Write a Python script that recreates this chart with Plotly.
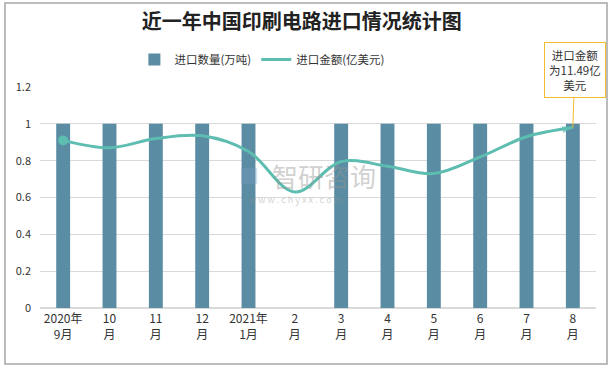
import plotly.graph_objects as go

categories = ["2020年<br>9月", "10<br>月", "11<br>月", "12<br>月", "2021年<br>1月", "2<br>月",
              "3<br>月", "4<br>月", "5<br>月", "6<br>月", "7<br>月", "8<br>月"]
quantity = [1, 1, 1, 1, 1, None, 1, 1, 1, 1, 1, 1]
amount = [0.91, 0.87, 0.92, 0.935, 0.85, 0.63, 0.795, 0.77, 0.73, 0.82, 0.93, 0.98]
y_ticks = [0, 0.2, 0.4, 0.6, 0.8, 1, 1.2]

FONT = "Noto Sans CJK SC"
bar_color = "#5a8ca3"
line_color = "#5cbdb0"

fig = go.Figure()
fig.add_trace(go.Bar(
    x=categories, y=quantity, name="进口数量(万吨)",
    marker=dict(color=bar_color, line=dict(width=0)), width=0.3,
))
fig.add_trace(go.Scatter(
    x=categories, y=amount, name="进口金额(亿美元)", mode="lines",
    line=dict(color=line_color, width=3, shape="spline", smoothing=1),
))
# start dot
fig.add_trace(go.Scatter(
    x=categories[:1], y=amount[:1], mode="markers", showlegend=False,
    marker=dict(symbol="circle", size=10, color=line_color),
))
# end arrow
fig.add_trace(go.Scatter(
    x=categories[-2:], y=amount[-2:], mode="markers", showlegend=False,
    marker=dict(symbol=["circle", "arrow"], size=[0, 11], color=line_color,
                angleref="previous", line=dict(width=0)),
))

fig.update_layout(
    width=616, height=368,
    margin=dict(l=40, r=20, t=87, b=60, autoexpand=False),
    paper_bgcolor="white", plot_bgcolor="white",
    font=dict(family=FONT, size=12, color="#333333"),
    title=dict(text="<b>近一年中国印刷电路进口情况统计图</b>", x=0.49, xanchor="center",
               y=0.94, yanchor="middle", font=dict(size=20, color="#222222", family=FONT)),
    legend=dict(orientation="h", x=0.4, xanchor="center", y=1.125, yanchor="middle",
                font=dict(size=11.5, color="#333333"), itemwidth=30, tracegroupgap=0),
    showlegend=True,
)
fig.update_xaxes(range=[-0.5, len(categories) - 0.5], showgrid=False, showline=True,
                 linecolor="#d9d9d9", ticks="", tickfont=dict(size=12, color="#333333"),
                 automargin=False)
fig.update_yaxes(range=[0, 1.2], tickvals=y_ticks, showgrid=True, gridcolor="#d9d9d9",
                 zeroline=True, zerolinecolor="#d9d9d9", showline=False, automargin=False,
                 tickfont=dict(size=11, color="#333333"), ticklabelstandoff=8)

# outer border
fig.add_shape(type="rect", xref="paper", yref="paper",
              x0=-0.063, x1=1.0198, y0=-0.253, y1=1.38,
              line=dict(color="#a6a6a6", width=1.5), fillcolor="rgba(0,0,0,0)", layer="below")

# watermark
fig.add_annotation(xref="paper", yref="paper", x=0.375, y=0.6, text="<b>■</b>",
                   showarrow=False, font=dict(size=20, color="rgba(120,160,200,0.35)"))
fig.add_annotation(xref="paper", yref="paper", x=0.51, y=0.6, text="智研咨询",
                   showarrow=False, font=dict(size=26, color="rgba(150,150,150,0.45)"))
fig.add_annotation(xref="paper", yref="paper", x=0.46, y=0.49, text="w w w . c h y x x . c o m",
                   showarrow=False, font=dict(size=9, color="rgba(150,150,150,0.45)"))

# callout
fig.add_annotation(x=categories[-1], y=amount[-1], xref="x", yref="y",
                   text="进口金额<br>为11.49亿<br>美元", showarrow=True, arrowhead=0,
                   arrowcolor="#f2bd2c", arrowwidth=1, ax=2, ay=-58,
                   bordercolor="#f2bd2c", borderwidth=1, borderpad=4, bgcolor="white",
                   font=dict(size=11.5, color="#333333"), align="center")

fig.write_html("out.html", config={"displayModeBar": False},
               post_script="document.body.style.margin='0px';document.body.style.overflow='hidden';")
